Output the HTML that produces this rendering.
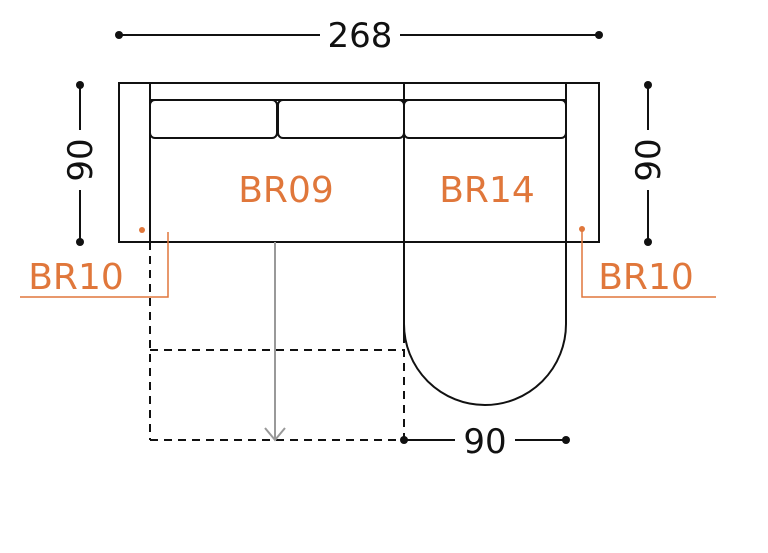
<!DOCTYPE html>
<html><head><style>body{margin:0;background:#fff}svg{display:block}</style></head><body>
<svg width="768" height="553" viewBox="0 0 768 553" xmlns="http://www.w3.org/2000/svg" font-family="'DejaVu Sans','Liberation Sans',sans-serif">
<g stroke="#111" stroke-width="2" fill="none">
<rect x="119" y="83" width="480" height="159"/>
<line x1="150" y1="83" x2="150" y2="242"/>
<line x1="566" y1="83" x2="566" y2="242"/>
<line x1="404" y1="83" x2="404" y2="335"/>
<line x1="150" y1="100" x2="566" y2="100"/>
<rect x="150" y="100" width="127" height="38" rx="5"/>
<rect x="278" y="100" width="126" height="38" rx="5"/>
<rect x="404" y="100" width="162" height="38" rx="5"/>
<rect x="405" y="243" width="160" height="90" fill="#fff" stroke="none"/>
<path d="M404 242 V324 A81 81 0 0 0 566 324 V242"/>
<g stroke-dasharray="8,6">
<line x1="150" y1="242" x2="150" y2="440"/>
<line x1="150" y1="350" x2="404" y2="350"/>
<line x1="150" y1="440" x2="404" y2="440"/>
<line x1="404" y1="335" x2="404" y2="440"/>
</g>
<line x1="119" y1="35" x2="320" y2="35"/><line x1="400" y1="35" x2="599" y2="35"/>
<line x1="80" y1="85" x2="80" y2="130"/><line x1="80" y1="190" x2="80" y2="242"/>
<line x1="648" y1="85" x2="648" y2="130"/><line x1="648" y1="190" x2="648" y2="242"/>
<line x1="404" y1="440" x2="455" y2="440"/><line x1="515" y1="440" x2="566" y2="440"/>
</g>
<g fill="#111">
<circle cx="119" cy="35" r="4"/><circle cx="599" cy="35" r="4"/>
<circle cx="80" cy="85" r="4"/><circle cx="80" cy="242" r="4"/>
<circle cx="648" cy="85" r="4"/><circle cx="648" cy="242" r="4"/>
<circle cx="404" cy="440" r="4"/><circle cx="566" cy="440" r="4"/>
</g>
<g stroke="#999" stroke-width="2" fill="none">
<line x1="275" y1="242" x2="275" y2="440"/>
<path d="M265 428 L275 440 L285 428"/>
</g>
<g font-size="34" fill="#111" text-anchor="middle">
<text x="360" y="47">268</text>
<text x="485" y="453">90</text>
<text transform="translate(92 160) rotate(-90)">90</text>
<text transform="translate(660 160) rotate(-90)">90</text>
</g>
<g fill="#e0773b" font-size="36">
<text x="286" y="202" text-anchor="middle">BR09</text>
<text x="487" y="202" text-anchor="middle">BR14</text>
<text x="76" y="289" text-anchor="middle">BR10</text>
<text x="646" y="289" text-anchor="middle">BR10</text>
</g>
<g stroke="#e0773b" stroke-width="1.5" fill="none">
<path d="M168 232 V297 H20"/>
<path d="M582 229 V297 H716"/>
</g>
<g fill="#e0773b"><circle cx="142" cy="230" r="3"/><circle cx="582" cy="229" r="3"/></g>
</svg>
</body></html>
